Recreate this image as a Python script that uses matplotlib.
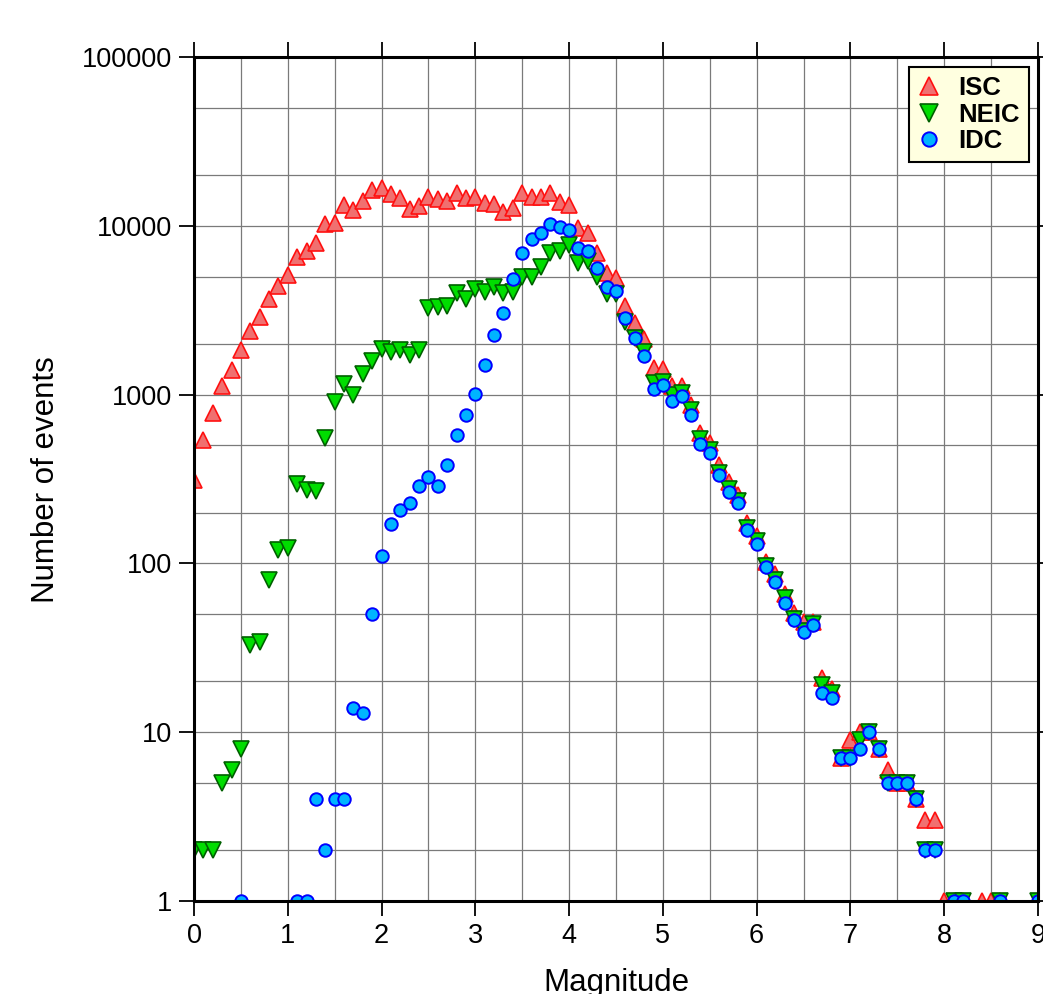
import numpy as np
import matplotlib
matplotlib.use('Agg')
import matplotlib.pyplot as plt
from matplotlib.ticker import FixedLocator, NullFormatter

plt.rcParams['font.family'] = ['Liberation Sans', 'DejaVu Sans']

nan = np.nan

# magnitude bins (0.1 steps)
mags = [0.0, 0.1, 0.2, 0.3, 0.4, 0.5, 0.6, 0.7, 0.8, 0.9,
        1.0, 1.1, 1.2, 1.3, 1.4, 1.5, 1.6, 1.7, 1.8, 1.9,
        2.0, 2.1, 2.2, 2.3, 2.4, 2.5, 2.6, 2.7, 2.8, 2.9,
        3.0, 3.1, 3.2, 3.3, 3.4, 3.5, 3.6, 3.7, 3.8, 3.9,
        4.0, 4.1, 4.2, 4.3, 4.4, 4.5, 4.6, 4.7, 4.8, 4.9,
        5.0, 5.1, 5.2, 5.3, 5.4, 5.5, 5.6, 5.7, 5.8, 5.9,
        6.0, 6.1, 6.2, 6.3, 6.4, 6.5, 6.6, 6.7, 6.8, 6.9,
        7.0, 7.1, 7.2, 7.3, 7.4, 7.5, 7.6, 7.7, 7.8, 7.9,
        8.0, 8.1, 8.2, 8.3, 8.4, 8.5, 8.6, 8.7, 8.8, 8.9,
        9.0]

# event counts per bin (nan = no events)
isc = [312, 538, 778, 1125, 1400, 1838, 2370, 2870, 3670, 4400,
       5110, 6510, 7120, 7940, 10250, 10350, 13300, 12400, 14080, 16300,
       16820, 15420, 14540, 12500, 13090, 14870, 14410, 14030, 15710, 14590,
       14900, 13580, 13450, 12110, 12790, 15560, 14870, 14870, 15710, 13880,
       13280, 9740, 9020, 6870, 5220, 4880, 3360, 2640, 2125, 1430,
       1418, 1120, 1130, 867, 592, 516, 383, 305, 254, 173,
       145, 102, 86, 66, 51, 45, 45, 21, 18, 7,
       9, 10, 10, 8, 6, 5, 5, 4, 3, 3,
       1, 1, 1, nan, 1, 1, 1, nan, nan, nan,
       nan]

neic = [2, 2, 2, 5, 6, 8, 33, 34, 80, 120,
        123, 295, 272, 268, 551, 908, 1156, 995, 1324, 1588,
        1855, 1795, 1830, 1716, 1830, 3250, 3300, 3350, 4015, 3666,
        4200, 4065, 4315, 3980, 4065, 4945, 4990, 5670, 6920, 7120,
        7690, 6040, 6210, 4990, 3945, 3945, 2700, 2150, 1795, 1165,
        1190, 995, 1026, 810, 543, 470, 345, 275, 235, 162,
        135, 97, 80, 62, 47, 40, 44, 19, 17, 7,
        7, 9, 10, 8, 5, 5, 5, 4, 2, 2,
        nan, 1, 1, nan, nan, nan, 1, nan, nan, nan,
        1]

idc = [nan, nan, nan, nan, nan, 1, nan, nan, nan, nan,
       nan, 1, 1, 4, 2, 4, 4, 14, 13, 50,
       111, 171, 207, 227, 287, 324, 289, 383, 576, 757,
       1009, 1497, 2256, 3054, 4810, 6920, 8350, 9110, 10250, 9800,
       9450, 7350, 7080, 5600, 4355, 4125, 2830, 2150, 1693, 1075,
       1140, 920, 982, 757, 510, 449, 334, 266, 227, 158,
       131, 95, 78, 58, 46, 39, 43, 17, 16, 7,
       7, 8, 10, 8, 5, 5, 5, 4, 2, 2,
       nan, 1, 1, nan, nan, nan, 1, nan, nan, nan,
       1]

fig = plt.figure(figsize=(10.43, 9.94), dpi=100)
ax = fig.add_axes([194 / 1043, 93 / 994, 844 / 1043, 844 / 994])

ax.plot(mags, isc, linestyle='none', marker='^', markersize=11.5,
        markerfacecolor='#F07070', markeredgecolor='#FF1010', markeredgewidth=1.2,
        label='ISC', zorder=3)
ax.plot(mags, neic, linestyle='none', marker='v', markersize=11.5,
        markerfacecolor='#00DD00', markeredgecolor='#006000', markeredgewidth=1.2,
        label='NEIC', zorder=4)
ax.plot(mags, idc, linestyle='none', marker='o', markersize=9,
        markerfacecolor='#00B4FF', markeredgecolor='#0000FF', markeredgewidth=1.4,
        label='IDC', zorder=5)

ax.set_yscale('log')
ax.set_xlim(0, 9)
ax.set_ylim(1, 100000)

ax.set_xticks(range(10))
ax.xaxis.set_minor_locator(FixedLocator([0.5 + i for i in range(9)]))
ax.yaxis.set_major_locator(FixedLocator([1, 10, 100, 1000, 10000, 100000]))
ax.yaxis.set_minor_locator(FixedLocator([2, 5, 20, 50, 200, 500, 2000, 5000, 20000, 50000]))
ax.yaxis.set_minor_formatter(NullFormatter())
ax.set_yticklabels(['1', '10', '100', '1000', '10000', '100000'])

ax.tick_params(which='major', direction='out', length=11, width=1.3,
               labelsize=19.5, pad=4.5, top=True, right=True)
ax.tick_params(which='minor', length=0)

ax.grid(which='both', color='#7a7a7a', linewidth=0.9)
ax.set_axisbelow(True)
for sp in ax.spines.values():
    sp.set_linewidth(2.2)
    sp.set_zorder(6)

fig.text(46 / 1043, 1 - 480 / 994, 'Number of events', rotation=90,
         ha='center', va='center', fontsize=22.5)
fig.text(616 / 1043, 3 / 994, 'Magnitude', ha='center', va='baseline', fontsize=22.5)

leg = ax.legend(loc='upper right', bbox_to_anchor=(0.989, 0.988), borderaxespad=0,
                prop={'weight': 'bold', 'size': 18.5}, fancybox=False, framealpha=1,
                facecolor='#FFFFE0', edgecolor='black', handlelength=0.85,
                handletextpad=0.7, labelspacing=0.1, borderpad=0.35,
                markerscale=1.15)
leg.get_frame().set_linewidth(1.5)
leg.set_zorder(10)

fig.savefig('out.png', dpi=100)
